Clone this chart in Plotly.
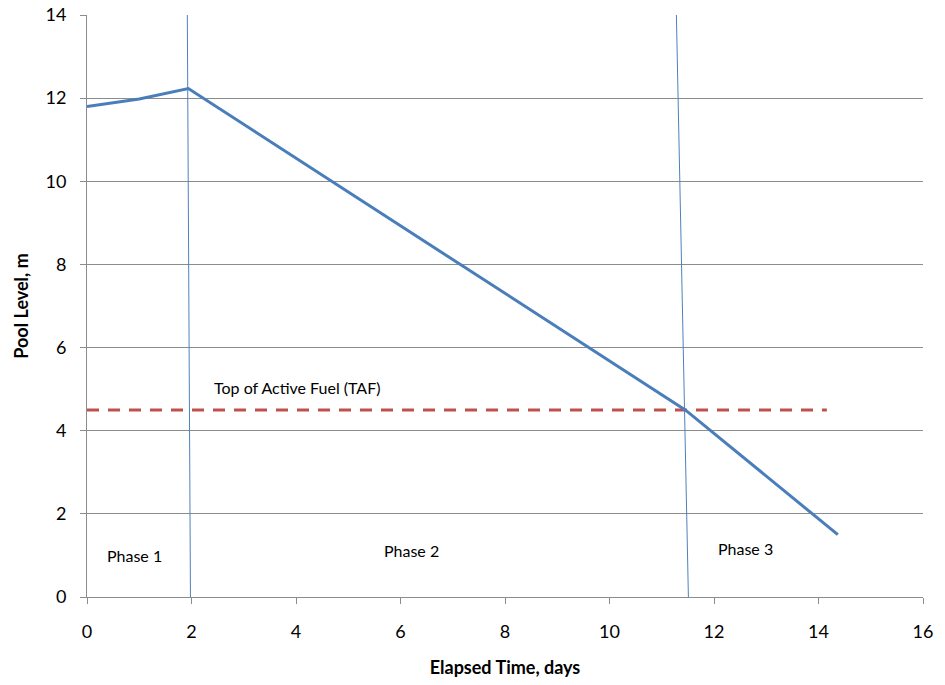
import plotly.graph_objects as go

# Pool level series
time_days = [0, 1, 1.94, 11.45, 14.37]
pool_level = [11.8, 11.98, 12.23, 4.5, 1.5]

# TAF reference line
taf_x = [0, 14.16]
taf_y = [4.5, 4.5]

# Phase boundary lines (slightly slanted as drawn)
b1_x = [1.92, 1.98]
b1_y = [14, 0]
b2_x = [11.28, 11.51]
b2_y = [14, 0]

phase_labels = ["Phase 1", "Phase 2", "Phase 3"]
phase_x = [0.91, 6.21, 12.6]
phase_y = [1.0, 1.12, 1.17]

x_ticks = [0, 2, 4, 6, 8, 10, 12, 14, 16]
y_ticks = [0, 2, 4, 6, 8, 10, 12, 14]

font_family = "Lato, 'Open Sans', 'Liberation Sans', sans-serif"

fig = go.Figure()
fig.add_trace(go.Scatter(x=b1_x, y=b1_y, mode="lines",
                         line=dict(color="#4f81bd", width=1), showlegend=False, hoverinfo="skip"))
fig.add_trace(go.Scatter(x=b2_x, y=b2_y, mode="lines",
                         line=dict(color="#4f81bd", width=1), showlegend=False, hoverinfo="skip"))
fig.add_trace(go.Scatter(x=taf_x, y=taf_y, mode="lines",
                         line=dict(color="#c0504d", width=3, dash="12px,9px"), showlegend=False))
fig.add_trace(go.Scatter(x=time_days, y=pool_level, mode="lines",
                         line=dict(color="#4a7ebb", width=3), showlegend=False))

fig.add_annotation(x=2.39, y=5.04, text="Top of Active Fuel (TAF)", showarrow=False,
                   xanchor="left", font=dict(size=16, color="#000000", family=font_family))
for t, px, py in zip(phase_labels, phase_x, phase_y):
    fig.add_annotation(x=px, y=py, text=t, showarrow=False,
                       font=dict(size=16, color="#000000", family=font_family))

fig.update_layout(
    width=945, height=685,
    margin=dict(l=87, r=22, t=15, b=88, autoexpand=False),
    plot_bgcolor="white", paper_bgcolor="white",
    font=dict(family=font_family, size=18, color="#000000"),
    xaxis=dict(range=[0, 16], tickvals=x_ticks, showgrid=False, zeroline=False,
               showline=True, linecolor="#8c8c8c", linewidth=1, automargin=False,
               ticks="outside", ticklen=6, tickcolor="#8c8c8c", ticklabelstandoff=12,
               tickfont=dict(size=18),
               title=dict(text="<b>Elapsed Time, days</b>", font=dict(size=18), standoff=20)),
    yaxis=dict(range=[0, 14], tickvals=y_ticks, showgrid=True, gridcolor="#8c8c8c", gridwidth=1,
               zeroline=False, showline=True, linecolor="#8c8c8c", linewidth=1, automargin=False,
               ticks="outside", ticklen=6, tickcolor="#8c8c8c", ticklabelstandoff=10,
               tickfont=dict(size=18),
               title=dict(text="<b>Pool Level, m</b>", font=dict(size=18), standoff=12)),
)

fig.write_html("out.html")
